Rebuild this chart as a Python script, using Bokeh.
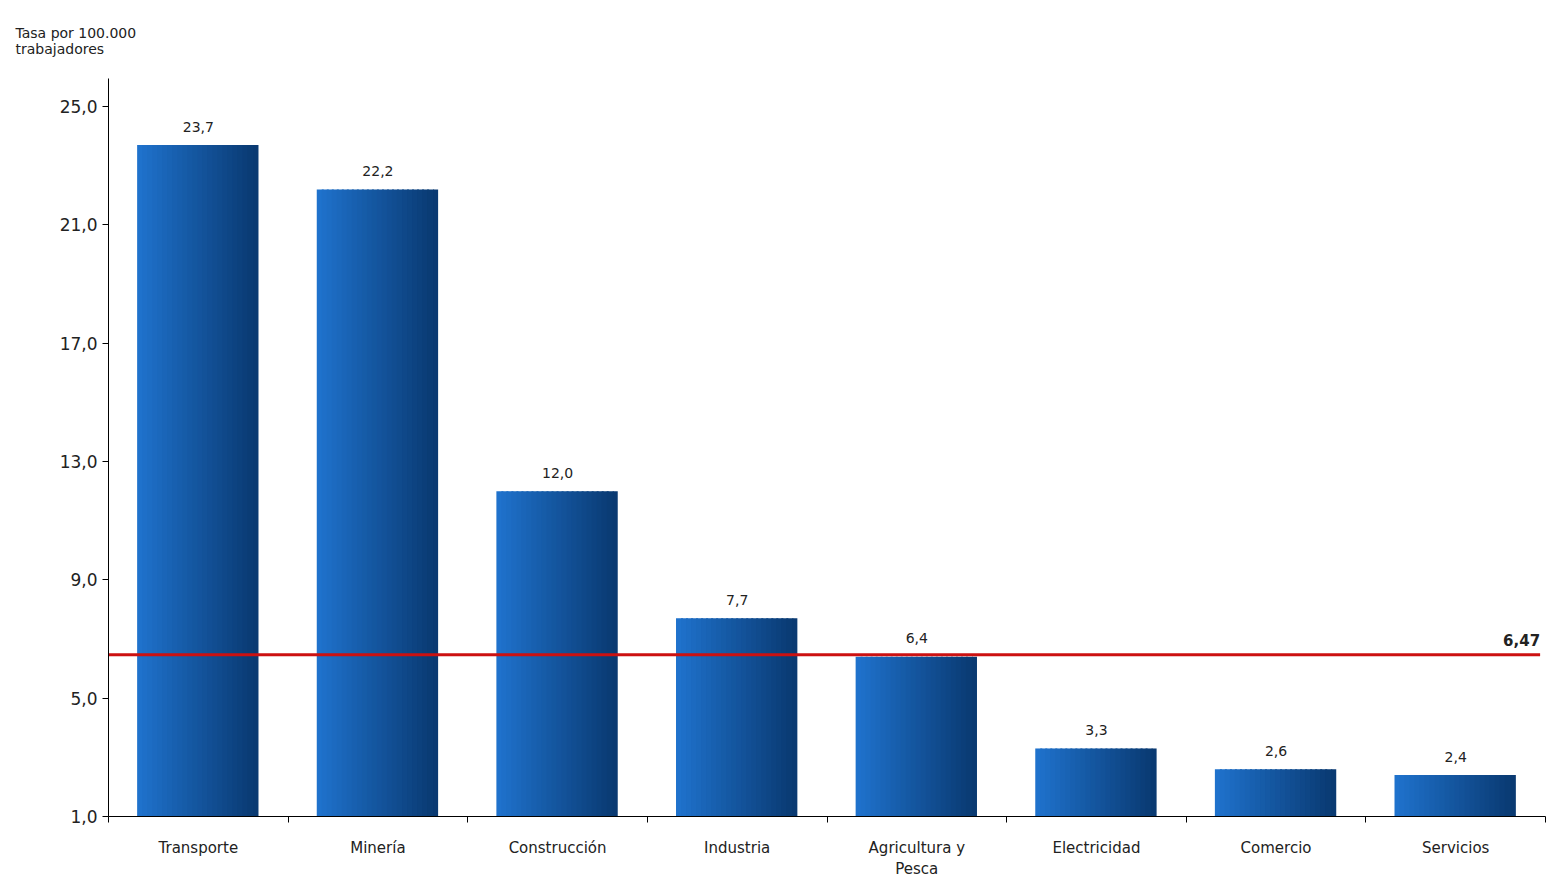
from bokeh.plotting import figure
from bokeh.models import FixedTicker
from bokeh.embed import file_html
from bokeh.resources import INLINE

categorias = ["Transporte", "Minería", "Construcción", "Industria", "Agricultura y\nPesca",
              "Electricidad", "Comercio", "Servicios"]
tasas = [23.7, 22.2, 12.0, 7.7, 6.4, 3.3, 2.6, 2.4]
etiquetas = ["23,7", "22,2", "12,0", "7,7", "6,4", "3,3", "2,6", "2,4"]
promedio = 6.47
y_ticks = [1, 5, 9, 13, 17, 21, 25]

FONT = "DejaVu Sans"

p = figure(width=1550, height=881, x_range=(0, 8), y_range=(1, 25.95),
           output_backend="svg", toolbar_location=None,
           title="Tasa por 100.000\ntrabajadores",
           min_border_left=108, min_border_right=5, min_border_top=10, min_border_bottom=30)
p.title.text_font = FONT
p.title.text_font_size = "14px"
p.title.text_font_style = "normal"
p.title.text_color = "#222222"
p.title.align = "left"
p.title.offset = -93
p.title.standoff = 44
p.outline_line_color = None
p.xgrid.visible = False
p.ygrid.visible = False

# barras con degradado (franjas)
n = 24
ancho = 0.67
w = ancho / n
for i, v in enumerate(tasas):
    xc = i + 0.5
    for k in range(n):
        t = k / (n - 1)
        r = int(0x1f + (0x0a - 0x1f) * t)
        g = int(0x72 + (0x3a - 0x72) * t)
        b = int(0xcc + (0x72 - 0xcc) * t)
        p.vbar(x=xc - ancho / 2 + w * (k + 0.5), top=v, bottom=1,
               width=w * (1.4 if k < n - 1 else 1.0),
               color="#%02x%02x%02x" % (r, g, b), line_color=None)
    p.text(x=[xc], y=[v + 0.45], text=[etiquetas[i]], text_align="center",
           text_baseline="bottom", text_font_size="14px", text_font={"value": FONT},
           text_color="#222222")

# línea de promedio
p.line([0, 7.97], [promedio, promedio], line_color="#cc1111", line_width=3)
p.text(x=[7.97], y=[promedio + 0.3], text=["6,47"], text_align="right",
       text_baseline="bottom", text_font_size="15px", text_font_style="bold",
       text_font={"value": FONT}, text_color="#222222")

# ejes
p.yaxis.ticker = FixedTicker(ticks=y_ticks)
p.yaxis.major_label_overrides = {t: f"{t},0" for t in y_ticks}
p.yaxis.major_label_text_font = FONT
p.yaxis.major_label_text_font_size = "17px"
p.yaxis.major_label_text_color = "#222222"
p.yaxis.minor_tick_line_color = None
p.yaxis.major_tick_in = 0
p.yaxis.major_tick_out = 6
p.yaxis.axis_line_color = "black"

p.xaxis.ticker = FixedTicker(ticks=[i + 0.5 for i in range(8)], minor_ticks=list(range(9)))
p.xaxis.major_label_overrides = {i + 0.5: c for i, c in enumerate(categorias)}
p.xaxis.major_label_text_font = FONT
p.xaxis.major_label_text_font_size = "15px"
p.xaxis.major_label_text_color = "#222222"
p.xaxis.major_tick_line_color = None
p.xaxis.minor_tick_in = 0
p.xaxis.minor_tick_out = 6
p.xaxis.minor_tick_line_color = "black"
p.xaxis.axis_line_color = "black"
p.xaxis.major_label_standoff = 16

open("out.html", "w").write(file_html(p, INLINE))
